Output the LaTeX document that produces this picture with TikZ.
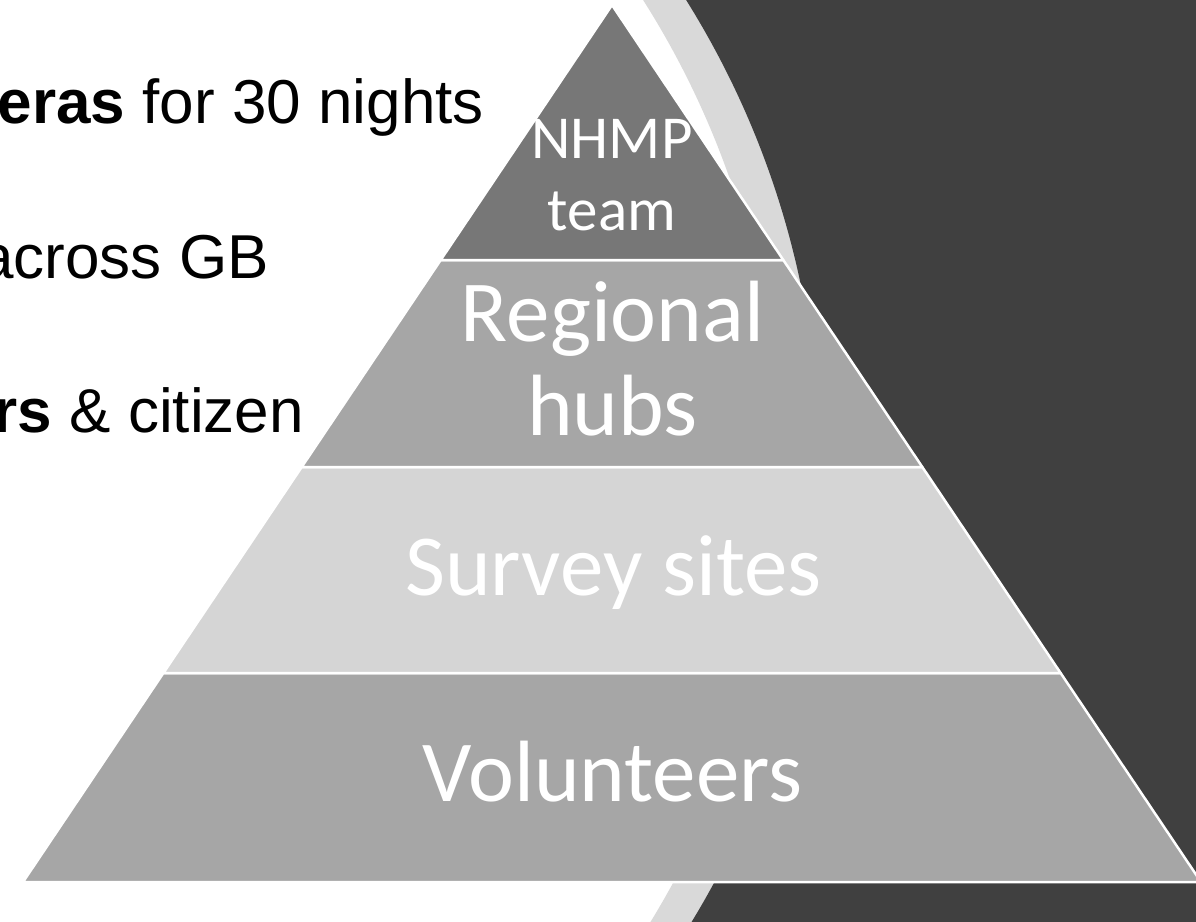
\documentclass[tikz,border=0pt]{standalone}
\usepackage{fontspec}
\newfontfamily\calibri{Carlito}
\newfontfamily\arial{Liberation Sans}
\definecolor{panel}{HTML}{404040}
\definecolor{band}{HTML}{D9D9D9}
\definecolor{lvltop}{HTML}{777777}
\definecolor{lvlmid}{HTML}{A6A6A6}
\definecolor{lvllight}{HTML}{D5D5D5}
\begin{document}
\begin{tikzpicture}[x=1pt,y=-1pt,
  layer/.style={draw=white,line width=2.5pt,line join=round},
  lbl/.style={text=white,inner sep=0pt,align=center,anchor=base},
  lefttext/.style={text=black,inner sep=0pt,anchor=base east,font=\arial\fontsize{62}{72}\selectfont}]
\useasboundingbox (0,0) rectangle (1196,921);
\begin{scope}
  \clip (0,0) rectangle (1196,921);
  \fill[white] (-20,-20) rectangle (1220,940);
  \fill[band,even odd rule] (-20,-20) rectangle (1220,940) (-93.4,466.9) circle[radius=871.9];
  \fill[panel,even odd rule] (-20,-20) rectangle (1220,940) (-59,465.4) circle[radius=878.4];
\end{scope}
% left text (cut at the page edge)
\node[lefttext] (t1) at (484,123) {\textbf{eras} for 30 nights};
\node[lefttext] (t2) at (269,278) {across GB};
\node[lefttext] (t3) at (304,432) {\textbf{rs} \& citizen};
% pyramid
\coordinate (apex) at (612,5);
\coordinate (l1) at (440.7,260); \coordinate (r1) at (783.3,260);
\coordinate (l2) at (301.7,467); \coordinate (r2) at (922.3,467);
\coordinate (l3) at (163.4,673); \coordinate (r3) at (1060.6,673);
\coordinate (l4) at (23.0,882);  \coordinate (r4) at (1201.0,882);
\path[layer,fill=lvlmid] (l3) -- (r3) -- (r4) -- (l4) -- cycle;
\path[layer,fill=lvllight] (l2) -- (r2) -- (r3) -- (l3) -- cycle;
\path[layer,fill=lvlmid] (l1) -- (r1) -- (r2) -- (l2) -- cycle;
\path[layer,fill=lvltop] (apex) -- (r1) -- (l1) -- cycle;
% labels (base anchor = baseline of the last line)
\node[lbl,font=\calibri\fontsize{61}{72}\selectfont] (nhmp) at (612,230) {NHMP\\team};
\node[lbl,font=\calibri\fontsize{87}{94}\selectfont] (hubs) at (612.5,435) {Regional\\hubs};
\node[lbl,font=\calibri\fontsize{87}{94}\selectfont] (sites) at (613.5,595) {Survey sites};
\node[lbl,font=\calibri\fontsize{87}{94}\selectfont] (vols) at (612.5,801) {Volunteers};
\end{tikzpicture}
\end{document}
